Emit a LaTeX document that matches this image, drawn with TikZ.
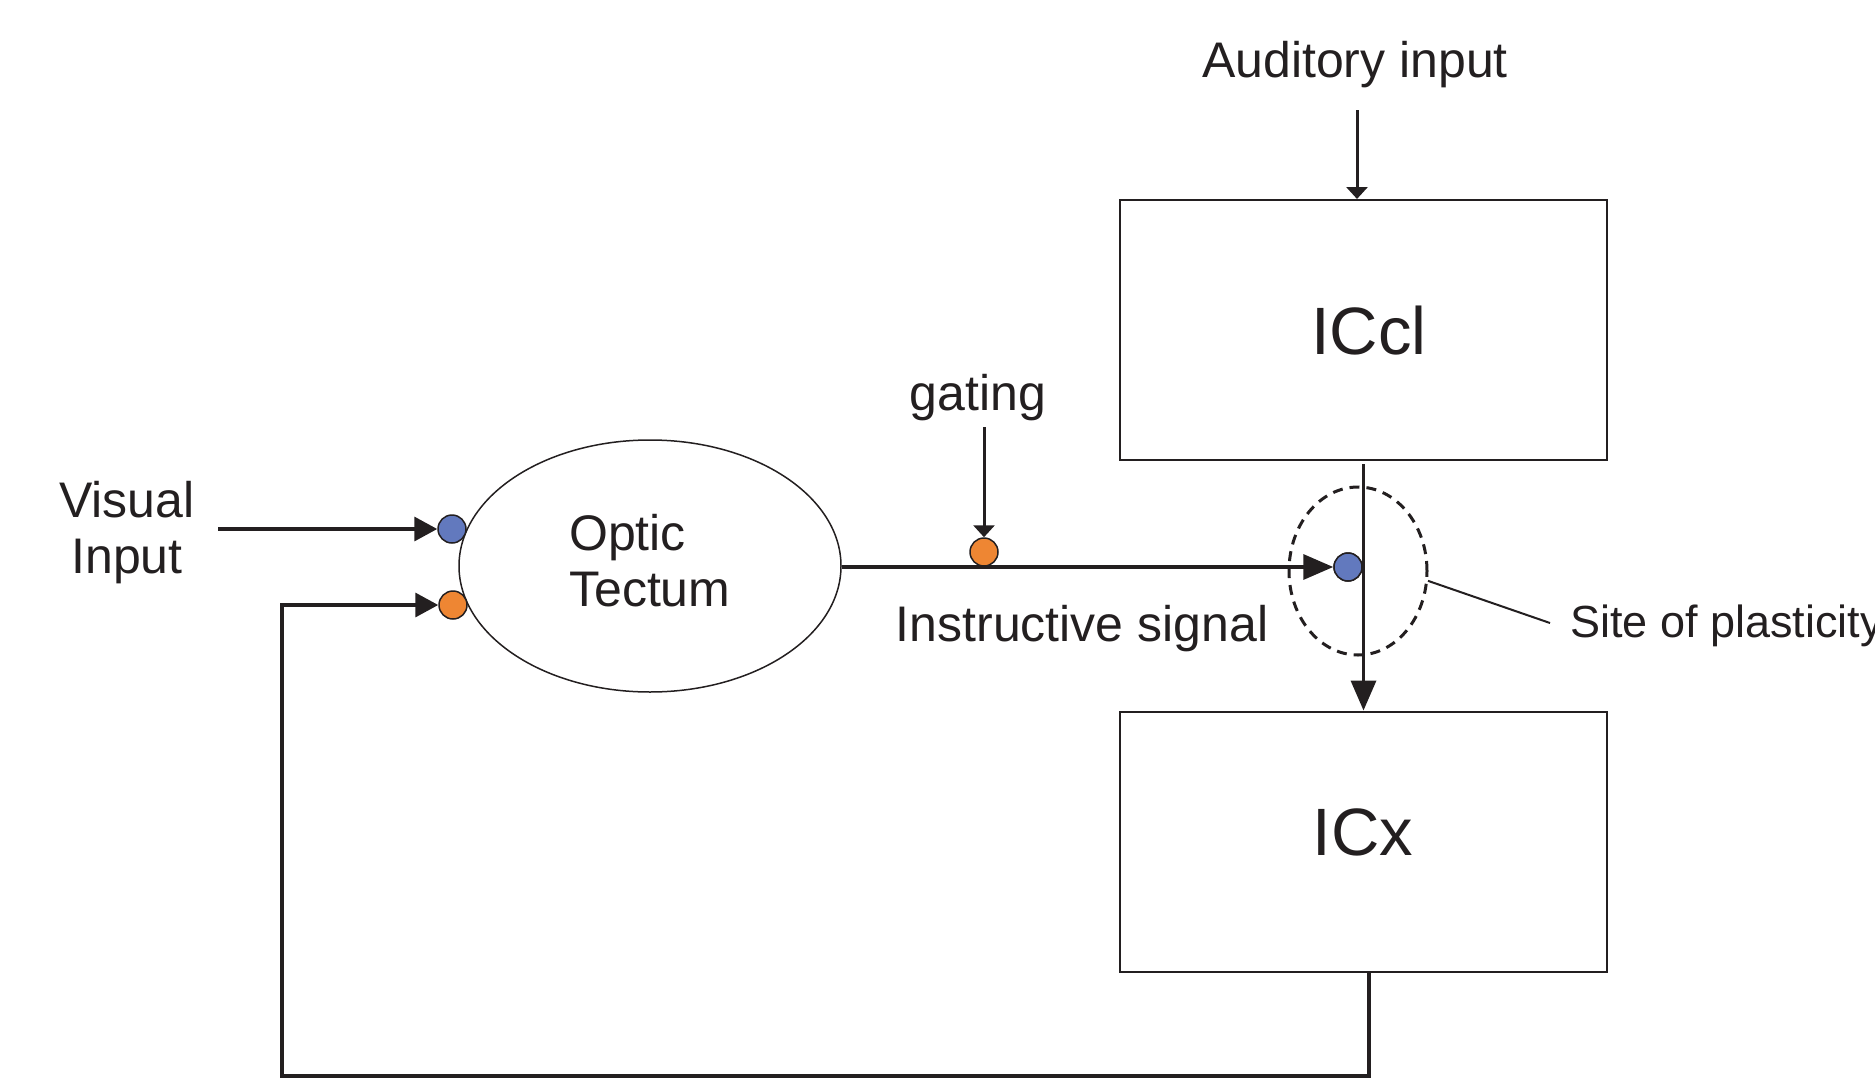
\documentclass[tikz,border=0pt]{standalone}
\usepackage{fontspec}
\setmainfont{Liberation Sans}
\usetikzlibrary{arrows.meta,shapes.geometric}
\definecolor{ink}{HTML}{231F20}
\definecolor{dotblue}{HTML}{6279BE}
\definecolor{dotorange}{HTML}{EE8633}
\tikzset{
  lbl/.style={inner sep=0pt, text=ink, font=\fontsize{50}{57}\selectfont},
  biglbl/.style={inner sep=0pt, font=\fontsize{67}{70}\selectfont, text=ink},
  areabox/.style={draw=ink, line width=2pt, minimum width=487pt, minimum height=260pt, inner sep=0pt},
  syn/.style={circle, draw=ink, line width=1.5pt, minimum size=28pt, inner sep=0pt},
  wire/.style={draw=ink, line width=3.5pt},
  bighead/.style={-{Triangle[length=30pt,width=25pt]}},
  midhead/.style={-{Triangle[length=23pt,width=24pt]}},
  smallhead/.style={-{Triangle[length=12pt,width=21pt]}},
}
\begin{document}
\begin{tikzpicture}[x=1pt,y=-1pt]
\useasboundingbox (0,0) rectangle (1875,1079);

% areas
\node[areabox] (ICcl) at (1363.5,330) {};
\node[areabox] (ICx) at (1363.5,841.5) {};
\node[ellipse, draw=ink, line width=1.5pt, minimum width=382pt, minimum height=252pt, inner sep=0pt] (OT) at (650,566) {};
\node[biglbl, anchor=base] (ICcltxt) at (1369,354) {ICcl};
\node[biglbl, anchor=base] (ICxtxt) at (1363,855) {ICx};
\node[lbl, anchor=base west] (opt) at (569,550) {Optic};
\node[lbl, anchor=base west] (tec) at (569,606) {Tectum};

% synapse dots
\node[syn, fill=dotblue] (blueA) at (452,529) {};
\node[syn, fill=dotorange] (orangeA) at (453,605) {};
\node[syn, fill=dotorange] (orangeG) at (984,552) {};
\node[syn, fill=dotblue] (blueS) at (1348,567) {};

% site of plasticity
\node[ellipse, draw=ink, line width=3pt, dash pattern=on 10pt off 7pt,
      minimum width=138pt, minimum height=168pt, inner sep=0pt] (site) at (1358,571) {};

% labels
\node[lbl, anchor=base] (aud) at (1355,77) {Auditory input};
\node[lbl, anchor=base] (vis) at (127,517) {Visual};
\node[lbl, anchor=base] (inp) at (127,573) {Input};
\node[lbl, anchor=base] (gat) at (978,410) {gating};
\node[lbl, anchor=base] (ins) at (1082,641) {Instructive signal};
\node[inner sep=0pt, text=ink, font=\fontsize{45}{50}\selectfont, anchor=base west] (sitelbl) at (1570,637) {Site of plasticity};

% free ends
\coordinate (audStart) at (1357,110);
\coordinate (visStart) at (218,529);
\coordinate (gatStart) at (984,427);
\coordinate (fbStart) at (1369,972);
\coordinate (fbCorner) at (282,1076);
\coordinate (siteEnd) at (1550,623);

% connectors
\draw[wire, line width=3pt, smallhead] (audStart) -- (audStart |- ICcl.north);
\draw[wire, midhead] (visStart) -- (blueA.west);
\draw[wire, line width=3pt, smallhead] (gatStart) -- (orangeG.north);
\draw[wire, bighead] (OT.east |- blueS.west) -- (blueS.west);
\draw[wire, bighead] ([yshift=-3pt]ICcl.south) -- (ICx.north);
\draw[wire, midhead] (fbStart) |- (fbCorner) |- (orangeA.west);
\draw[draw=ink, line width=2pt] (site.-8) -- (siteEnd);

% redraw the dot on top of the vertical line
\node[syn, fill=dotblue] at (blueS) {};
\end{tikzpicture}
\end{document}
